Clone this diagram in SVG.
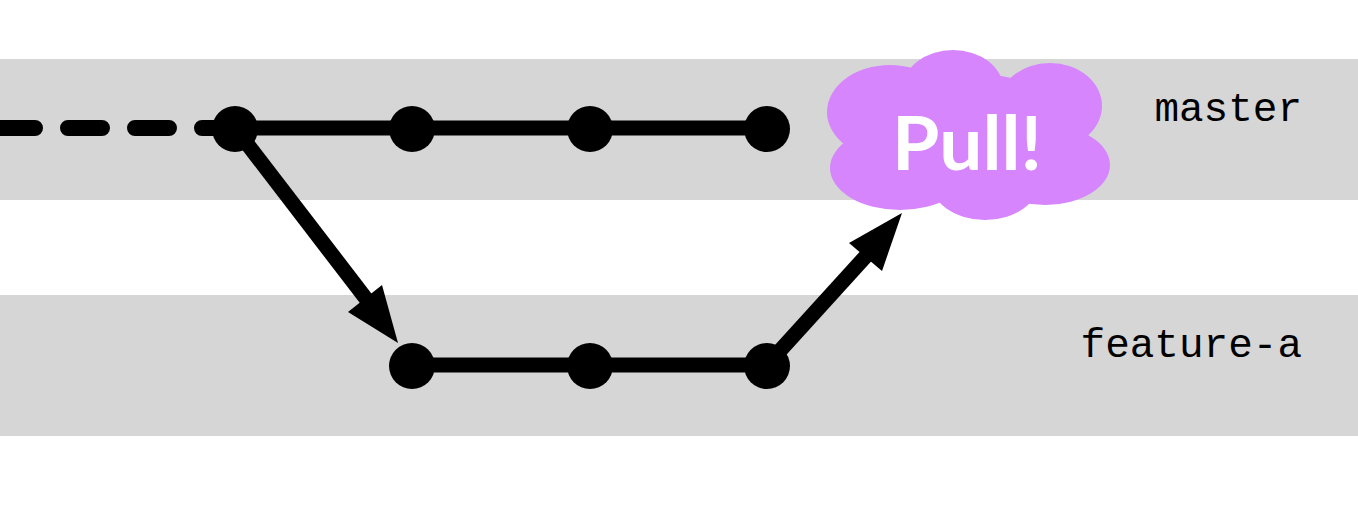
<svg xmlns="http://www.w3.org/2000/svg" width="1358" height="531" viewBox="0 0 1358 531">
<style>
.band{fill:#d6d6d6}
.commit{fill:#000}
.line{stroke:#000;stroke-width:15;fill:none}
.dash{stroke:#000;stroke-width:16;fill:none;stroke-linecap:round;stroke-dasharray:34 33}
.head{fill:#000}
.lbl{font-family:"Liberation Mono",monospace;font-size:41px;fill:#000;text-anchor:end}
.cloud{fill:#d685fd}
.pull{font-family:Lato,"Open Sans",sans-serif;font-weight:bold;font-size:75px;fill:#fff}
</style>
<rect width="1358" height="531" fill="#fff"/>
<g id="band-master"><rect class="band" x="0" y="59" width="1358" height="141"/><text class="lbl" x="1302" y="121">master</text></g>
<g id="band-feature"><rect class="band" x="0" y="295" width="1358" height="141"/><text class="lbl" x="1302" y="357">feature-a</text></g>
<g id="connectors">
<path class="dash" d="M1 128 H215"/>
<path class="line" d="M235 128 H767"/>
<path class="line" d="M412 365 H767"/>
<path class="line" d="M235 128 L367 300"/>
<polygon class="head" points="398,343 348,312 382,285"/>
<path class="line" d="M767 365 L866 256"/>
<polygon class="head" points="902,213 849,243 882,271"/>
</g>
<g id="m1"><circle class="commit" cx="235" cy="129" r="23"/></g>
<g id="m2"><circle class="commit" cx="412" cy="129" r="23"/></g>
<g id="m3"><circle class="commit" cx="590" cy="129" r="23"/></g>
<g id="m4"><circle class="commit" cx="767" cy="129" r="23"/></g>
<g id="f1"><circle class="commit" cx="412" cy="366" r="23"/></g>
<g id="f2"><circle class="commit" cx="590" cy="366" r="23"/></g>
<g id="f3"><circle class="commit" cx="767" cy="366" r="23"/></g>
<g id="pull">
<ellipse class="cloud" cx="953" cy="88" rx="50" ry="38"/>
<ellipse class="cloud" cx="1050" cy="106" rx="52" ry="43"/>
<ellipse class="cloud" cx="1045" cy="165" rx="65" ry="40"/>
<ellipse class="cloud" cx="985" cy="180" rx="55" ry="40"/>
<ellipse class="cloud" cx="900" cy="168" rx="70" ry="42"/>
<ellipse class="cloud" cx="890" cy="112" rx="63" ry="47"/>
<ellipse class="cloud" cx="968" cy="135" rx="110" ry="62"/>
<text class="pull" x="892" y="170" textLength="150" lengthAdjust="spacingAndGlyphs">Pull!</text>
</g>
</svg>
